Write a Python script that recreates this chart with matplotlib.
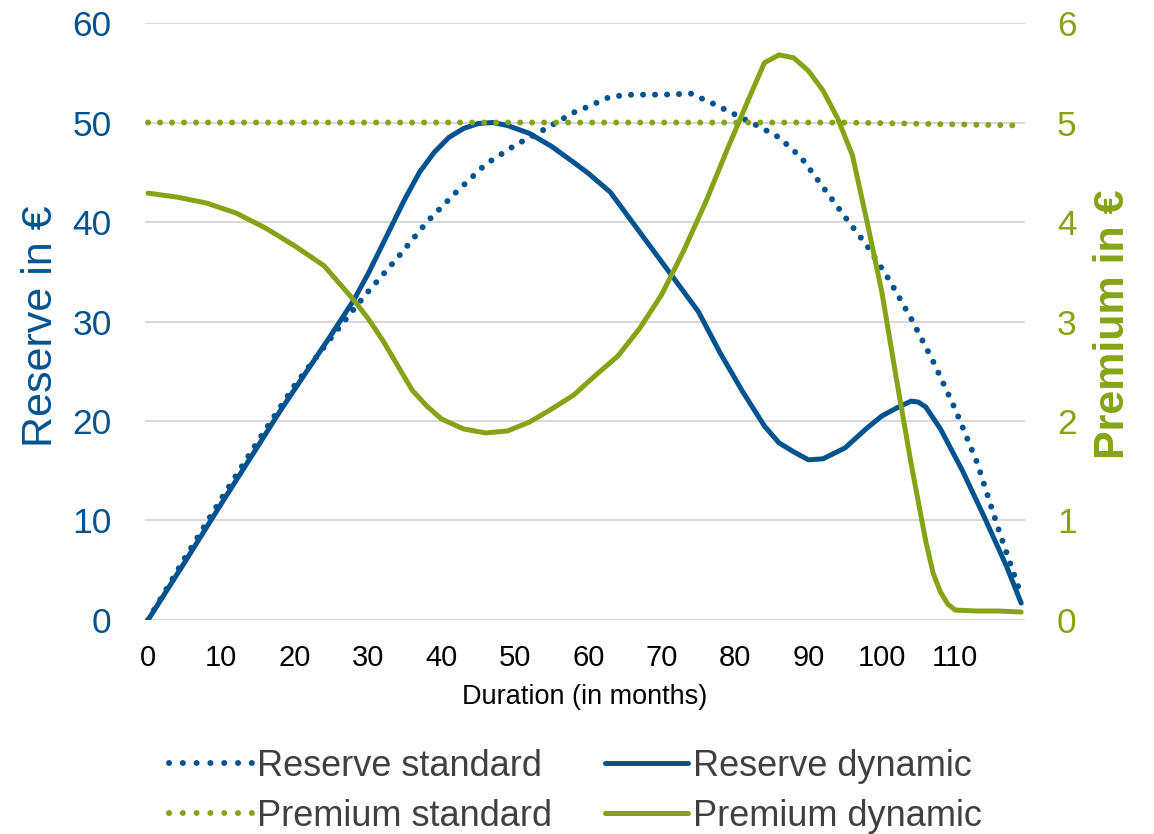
import matplotlib
matplotlib.use("Agg")
import matplotlib.pyplot as plt
from matplotlib.lines import Line2D

plt.rcParams['font.family'] = ['Liberation Sans', 'DejaVu Sans']

BLUE = '#00538F'
GREEN = '#85A415'

# reserve, standard tariff (left axis, EUR)
res_std_months = [0, 5, 10, 15, 20, 25, 28, 30, 34, 38, 42, 46, 50, 54, 58, 60, 63, 66,
                  70, 74, 77, 80, 83, 86, 89, 92, 95, 98, 101, 104, 107, 110, 113, 116, 119]
res_std = [0, 6.2, 12.2, 18.0, 23.6, 28.4, 31.2, 33.0, 36.4, 40.0, 43.0, 45.8, 47.7, 49.3,
           51.0, 51.6, 52.6, 52.8, 52.8, 52.9, 51.9, 50.8, 49.7, 48.5, 46.5, 43.5, 40.5,
           37.6, 34.2, 30.3, 26.0, 21.2, 15.8, 8.9, 2.5]

# reserve, dynamic tariff (left axis, EUR)
res_dyn_months = [0, 5, 10, 15, 18, 20, 25, 28, 30, 35, 37, 39, 41, 43, 45, 47, 49, 52, 55,
                  58, 60, 63, 66, 70, 75, 78, 81, 84, 86, 88, 90, 92, 95, 98, 100, 102, 104,
                  105, 106, 108, 111, 114, 117, 119]
res_dyn = [0, 5.8, 11.7, 17.5, 21.0, 23.2, 28.7, 32.1, 34.8, 42.3, 45.0, 47.0, 48.5, 49.4,
           49.9, 50.0, 49.7, 48.9, 47.6, 46.0, 44.9, 43.0, 40.0, 36.0, 31.0, 26.8, 23.0,
           19.5, 17.8, 16.9, 16.1, 16.2, 17.3, 19.3, 20.5, 21.3, 22.0, 21.9, 21.4, 19.2,
           15.0, 10.3, 5.4, 1.7]

# premium, standard tariff (right axis, EUR)
prem_std_months = [0, 95, 119]
prem_std = [5.0, 5.0, 4.97]

# premium, dynamic tariff (right axis, EUR)
prem_dyn_months = [0, 4, 8, 12, 16, 20, 24, 28, 30, 32, 34, 36, 38, 40, 43, 46, 49, 52, 55,
                   58, 61, 64, 67, 70, 73, 76, 79, 82, 84, 86, 88, 90, 92, 94, 96, 98, 100,
                   102, 104, 106, 107, 108, 109, 110, 113, 116, 119]
prem_dyn = [4.29, 4.25, 4.19, 4.09, 3.94, 3.76, 3.56, 3.22, 3.03, 2.81, 2.56, 2.31, 2.15,
            2.02, 1.92, 1.88, 1.90, 1.99, 2.12, 2.26, 2.46, 2.65, 2.93, 3.27, 3.71, 4.20,
            4.74, 5.26, 5.60, 5.68, 5.65, 5.52, 5.32, 5.04, 4.67, 4.00, 3.30, 2.42, 1.57,
            0.79, 0.47, 0.28, 0.16, 0.10, 0.09, 0.09, 0.08]

x_ticks = list(range(0, 111, 10))
left_ticks = list(range(0, 61, 10))
right_ticks = list(range(0, 7))

LW = 3.6       # solid lines
LW_DOT = 4.3   # dotted lines
DOTS = (0, (0.01, 2.0))

fig = plt.figure(figsize=(11.54, 8.34), dpi=100)
ax = fig.add_axes([0.1257, 0.2566, 0.7624, 0.7158])
ax2 = ax.twinx()

ax.plot(res_std_months, res_std, color=BLUE, lw=LW_DOT, ls=DOTS, dash_capstyle='round')
ax.plot(res_dyn_months, res_dyn, color=BLUE, lw=LW, solid_capstyle='round',
        solid_joinstyle='round')
ax2.plot(prem_std_months, prem_std, color=GREEN, lw=LW_DOT, ls=DOTS, dash_capstyle='round')
ax2.plot(prem_dyn_months, prem_dyn, color=GREEN, lw=LW, solid_capstyle='round',
         solid_joinstyle='round')

ax.set_xlim(-0.4, 119.5)
ax.set_ylim(0, 60)
ax2.set_ylim(0, 6)
ax.set_xticks(x_ticks)
ax.set_yticks(left_ticks)
ax2.set_yticks(right_ticks)

ax.grid(axis='y', color='#D9D9D9', lw=1.5)
ax.set_axisbelow(True)
for a in (ax, ax2):
    for s in a.spines.values():
        s.set_visible(False)
    a.tick_params(length=0)

ax.tick_params(axis='x', labelsize=21, labelcolor='black', pad=17)
ax.tick_params(axis='y', labelsize=25.5, labelcolor=BLUE, pad=24)
ax2.tick_params(axis='y', labelsize=25.5, labelcolor=GREEN, pad=23)

ax.set_xlabel('Duration (in months)', fontsize=19.5, labelpad=9)

fig.text(41 / 1154, 1 - 326 / 834, 'Reserve in €', rotation=90, ha='center', va='center',
         fontsize=31, color=BLUE)
fig.text(1113 / 1154, 1 - 324 / 834, 'Premium in €', rotation=90, ha='center', va='center',
         fontsize=31, color=GREEN, fontweight='bold')

handles = [
    Line2D([], [], color=BLUE, lw=LW_DOT, ls=(0, (0.01, 2.3)), dash_capstyle='round'),
    Line2D([], [], color=GREEN, lw=LW_DOT, ls=(0, (0.01, 2.3)), dash_capstyle='round'),
    Line2D([], [], color=BLUE, lw=LW, solid_capstyle='round'),
    Line2D([], [], color=GREEN, lw=LW, solid_capstyle='round'),
]
labels = ['Reserve standard', 'Premium standard', 'Reserve dynamic', 'Premium dynamic']
leg = fig.legend(handles, labels, ncol=2, loc='lower left', bbox_to_anchor=(0.118, -0.039),
                 frameon=False, fontsize=26, handlelength=2.3, handletextpad=0.15,
                 columnspacing=1.45, labelspacing=0.42)
for t in leg.get_texts():
    t.set_color('#404040')

fig.savefig('out.png', dpi=100)
